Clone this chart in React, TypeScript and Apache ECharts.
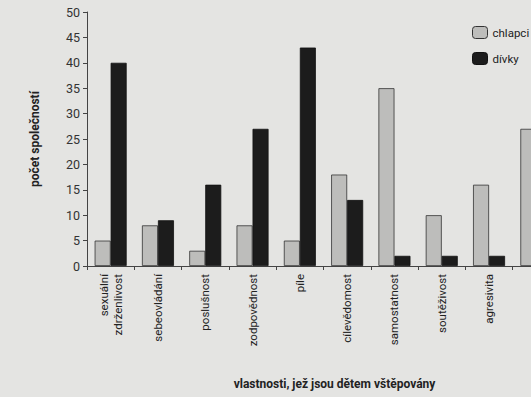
import React, { useEffect, useRef } from "react";
import * as echarts from "echarts";

const categories = [
  "sexuální\nzdrženlivost",
  "sebeovládání",
  "poslušnost",
  "zodpovědnost",
  "píle",
  "cílevědomost",
  "samostatnost",
  "soutěživost",
  "agresivita",
  "",
];
const chlapci = [5, 8, 3, 8, 5, 18, 35, 10, 16, 27];
const divky: (number | null)[] = [40, 9, 16, 27, 43, 13, 2, 2, 2, null];
const yTicks = { min: 0, max: 50, interval: 5 };

const FONT = "Roboto, 'DejaVu Sans Condensed', sans-serif";

export default function App() {
  const ref = useRef<HTMLDivElement>(null);
  useEffect(() => {
    if (!ref.current) return;
    const chart = echarts.init(ref.current, null, { renderer: "svg" });
    chart.setOption({
      animation: false,
      backgroundColor: "#e4e4e2",
      textStyle: { fontFamily: FONT },
      grid: { left: 87, right: 0, top: 12, bottom: 131 },
      legend: {
        orient: "vertical",
        left: 472,
        top: 26,
        padding: 0,
        itemWidth: 15,
        itemHeight: 12,
        itemGap: 13,
        textStyle: { fontFamily: FONT, fontSize: 11.5, color: "#222" },
        data: [
          { name: "chlapci", itemStyle: { color: "#bdbdbb", borderColor: "#333", borderWidth: 1 } },
          { name: "dívky", itemStyle: { color: "#1c1c1c", borderColor: "#111", borderWidth: 1 } },
        ],
      },
      xAxis: {
        type: "category",
        data: categories,
        name: "vlastnosti, jež jsou dětem vštěpovány",
        nameLocation: "middle",
        nameGap: 112,
        nameTextStyle: { fontFamily: FONT, fontWeight: "bold", fontSize: 12, color: "#222", padding: [0, 0, 0, 22] },
        axisLine: { lineStyle: { color: "#444", width: 1 } },
        axisTick: { show: true, length: 4, lineStyle: { color: "#444" } },
        axisLabel: {
          rotate: 90,
          interval: 0,
          margin: 8,
          fontFamily: FONT,
          fontSize: 11.5,
          color: "#222",
          lineHeight: 14,
        },
      },
      yAxis: {
        type: "value",
        min: yTicks.min,
        max: yTicks.max,
        interval: yTicks.interval,
        name: "počet společností",
        nameLocation: "middle",
        nameGap: 46,
        nameTextStyle: { fontFamily: FONT, fontWeight: "bold", fontSize: 12, color: "#222" },
        splitLine: { show: false },
        axisLine: { show: true, lineStyle: { color: "#444", width: 1 } },
        axisTick: { show: true, length: 4, lineStyle: { color: "#444" } },
        axisLabel: { fontFamily: FONT, fontSize: 12.5, color: "#333", margin: 7 },
      },
      series: [
        {
          name: "chlapci",
          type: "bar",
          data: chlapci,
          barWidth: 16,
          barGap: "0%",
          itemStyle: { color: "#bdbdbb", borderColor: "#333", borderWidth: 0.8 },
        },
        {
          name: "dívky",
          type: "bar",
          data: divky,
          barWidth: 16,
          barGap: "0%",
          itemStyle: { color: "#1c1c1c", borderColor: "#111", borderWidth: 0.8 },
        },
      ],
    });
    return () => chart.dispose();
  }, []);
  return (
    <div style={{ position: "fixed", left: 0, top: 0, width: 531, height: 397, overflow: "hidden", background: "#e4e4e2" }}>
      <div ref={ref} style={{ width: 560, height: 397 }} />
    </div>
  );
}
